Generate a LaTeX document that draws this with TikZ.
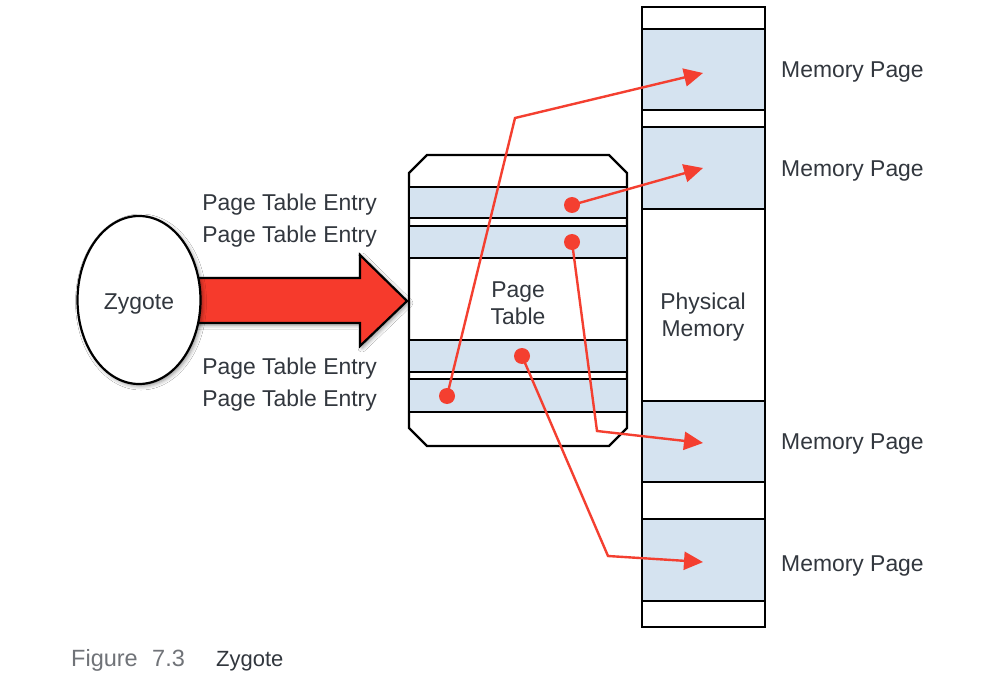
\documentclass[tikz,border=0pt]{standalone}
\usepackage{fontspec}
\setmainfont{Liberation Sans}
\usetikzlibrary{arrows.meta,shapes.geometric,shadows.blur}
\definecolor{lineRed}{RGB}{244,63,48}
\definecolor{bigRed}{RGB}{246,58,44}
\definecolor{bandBlue}{RGB}{213,227,240}
\definecolor{txt}{RGB}{50,55,62}
\definecolor{capgray}{RGB}{112,115,120}
\begin{document}
\begin{tikzpicture}[x=1pt,y=-1pt,
  lbl/.style={font=\fontsize{22.9}{27}\selectfont, text=txt, inner sep=0pt},
  outline/.style={draw=black, line width=2.2pt},
  band/.style={outline, fill=bandBlue, inner sep=0pt, outer sep=0pt, anchor=north west},
  ptr/.style={draw=lineRed, line width=2.4pt, line join=miter, -{Triangle[length=19pt,width=18pt]}},
  dotmark/.style={circle, fill=lineRed, draw=none, inner sep=0pt, minimum size=16pt},
  glow/.style={blur shadow={shadow xshift=2pt, shadow yshift=-2pt, shadow blur radius=4pt, shadow opacity=45}},
  caption/.style={font=\fontsize{22}{26}\selectfont, inner sep=0pt, anchor=base west}]
\useasboundingbox[fill=white] (0,0) rectangle (991,687);

% ---------- physical memory column ----------
\node[outline, fill=white, inner sep=0pt, outer sep=0pt, anchor=north west,
      minimum width=123pt, minimum height=620pt] (phys) at (642,7) {};
\node[band, minimum width=123pt, minimum height=81pt] (mA) at (642,29) {};
\node[band, minimum width=123pt, minimum height=82pt] (mB) at (642,127) {};
\node[band, minimum width=123pt, minimum height=81pt] (mC) at (642,401) {};
\node[band, minimum width=123pt, minimum height=82pt] (mD) at (642,519) {};
\node[lbl, align=center] (physlbl) at (703,317) {Physical\\Memory};

\node[lbl, anchor=base west] (mpA) at (781,78) {Memory Page};
\node[lbl, anchor=base west] (mpB) at (781,177) {Memory Page};
\node[lbl, anchor=base west] (mpC) at (781,449) {Memory Page};
\node[lbl, anchor=base west] (mpD) at (781,571) {Memory Page};

% ---------- page table ----------
\draw[outline, fill=white] (427,155) -- (609,155) -- (627,173) -- (627,428)
   -- (609,446) -- (427,446) -- (409,428) -- (409,173) -- cycle;
\node[band, minimum width=218pt, minimum height=31pt] (e1) at (409,187) {};
\node[band, minimum width=218pt, minimum height=32pt] (e2) at (409,226) {};
\node[band, minimum width=218pt, minimum height=32pt] (e3) at (409,340) {};
\node[band, minimum width=218pt, minimum height=33pt] (e4) at (409,379) {};
\node[lbl, align=center] (ptlbl) at (518,303) {Page\\Table};

\node[lbl, anchor=base east] (pte1) at (377,211) {Page Table Entry};
\node[lbl, anchor=base east] (pte2) at (377,243) {Page Table Entry};
\node[lbl, anchor=base east] (pte3) at (377,374) {Page Table Entry};
\node[lbl, anchor=base east] (pte4) at (377,406) {Page Table Entry};

% ---------- zygote and big arrow ----------
\draw[outline, fill=bigRed, glow, line join=miter]
   (190,278) -- (360,278) -- (360,255) -- (407,301) -- (360,346) -- (360,323) -- (190,323) -- cycle;
\node[ellipse, outline, fill=white, glow, inner sep=0pt,
      minimum width=123pt, minimum height=168pt] (zyg) at (139,300) {};
\node[lbl, anchor=base] (zyglbl) at (zyg.center |- 0,309) {Zygote};

% ---------- pointers ----------
\node[dotmark] (d1) at (572,205) {};
\node[dotmark] (d2) at (572,242) {};
\node[dotmark] (d3) at (522,356) {};
\node[dotmark] (d4) at (447,396) {};

\coordinate (tA) at (703,73);
\coordinate (tB) at (703,168);
\coordinate (tC) at (703,443);
\coordinate (tD) at (703,562);
\coordinate (b4) at (515,118);
\coordinate (b2) at (597,431);
\coordinate (b3) at (608,556);

\draw[ptr] (d4.center) -- (b4) -- (tA);
\draw[ptr] (d1.center) -- (tB);
\draw[ptr] (d2.center) -- (b2) -- (tC);
\draw[ptr] (d3.center) -- (b3) -- (tD);

% ---------- caption ----------
\node[caption, text=capgray, font=\fontsize{23.5}{26}\selectfont] (capfig) at (71,666) {Figure};
\node[caption, text=capgray, font=\fontsize{23.5}{26}\selectfont] (capnum) at (152,666) {7.3};
\node[caption, text=txt] (captxt) at (216,666) {Zygote};
\end{tikzpicture}
\end{document}
